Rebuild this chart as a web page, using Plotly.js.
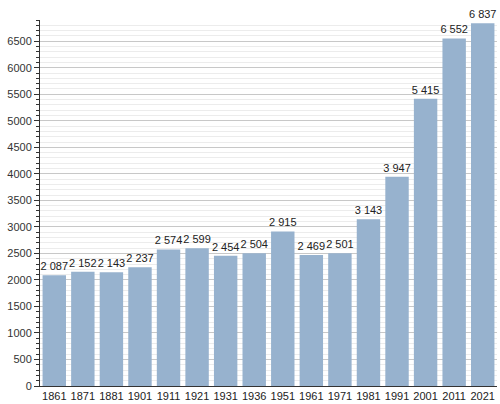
<!DOCTYPE html>
<html>
<head>
<meta charset="utf-8">
<script src="https://cdn.plot.ly/plotly-3.0.1.min.js"></script>
<style>html,body{margin:0;padding:0;background:#fff}#chart{width:500px;height:404px}</style>
</head>
<body>
<div id="chart"></div>
<script>
var years = ['1861','1871','1881','1901','1911','1921','1931','1936','1951','1961','1971','1981','1991','2001','2011','2021'];
var population = [2087, 2152, 2143, 2237, 2574, 2599, 2454, 2504, 2915, 2469, 2501, 3143, 3947, 5415, 6552, 6837];
var yTickValues = [0, 500, 1000, 1500, 2000, 2500, 3000, 3500, 4000, 4500, 5000, 5500, 6000, 6500];

function fmt(v) {
  return String(v).replace(/\B(?=(\d{3})+(?!\d))/g, ' ');
}
var labels = population.map(fmt);

var trace = {
  type: 'bar',
  x: years,
  y: population,
  text: labels,
  textposition: 'outside',
  constraintext: 'none',
  cliponaxis: false,
  textfont: {family: 'Liberation Sans, Arial, sans-serif', size: 11, color: '#222'},
  marker: {color: '#97b2ce', line: {width: 0}},
  hoverinfo: 'x+y'
};

var layout = {
  width: 500,
  height: 404,
  margin: {l: 40, r: 3, t: 20, b: 18, pad: 0},
  paper_bgcolor: '#fff',
  plot_bgcolor: '#fff',
  bargap: 0.18,
  showlegend: false,
  font: {family: 'Liberation Sans, Arial, sans-serif', size: 11, color: '#222'},
  xaxis: {
    type: 'category',
    showline: true,
    linecolor: '#333',
    linewidth: 1,
    ticks: '',
    showgrid: false,
    tickfont: {size: 11, color: '#222'},
    fixedrange: true
  },
  yaxis: {
    range: [0, 6900],
    tickmode: 'array',
    tickvals: yTickValues,
    ticktext: yTickValues.map(String),
    showline: true,
    linecolor: '#333',
    linewidth: 1,
    ticks: 'outside',
    ticklen: 5,
    tickcolor: '#333',
    tickfont: {size: 11, color: '#333'},
    showgrid: true,
    gridcolor: '#c8c8c8',
    gridwidth: 1,
    zeroline: false,
    minor: {
      dtick: 100,
      tick0: 0,
      ticks: 'outside',
      ticklen: 3,
      tickcolor: '#333',
      showgrid: true,
      gridcolor: '#ececec',
      gridwidth: 1
    },
    fixedrange: true
  }
};

Plotly.newPlot('chart', [trace], layout, {displayModeBar: false, staticPlot: true});
</script>
</body>
</html>
